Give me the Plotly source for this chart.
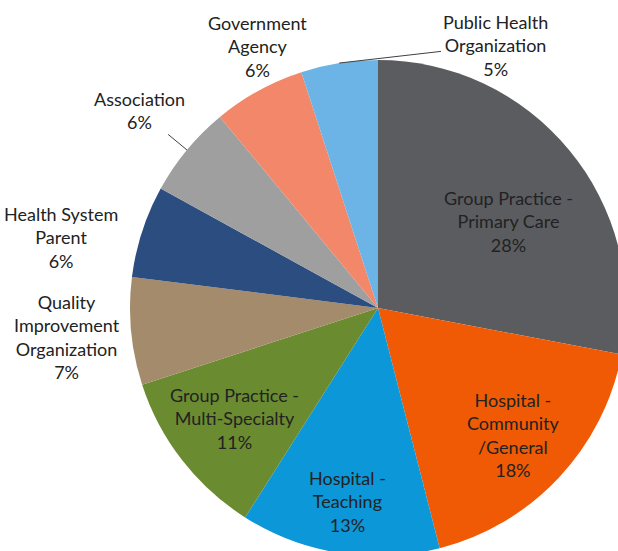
import math
import plotly.graph_objects as go

# ---- data ----
labels = [
    "Group Practice - Primary Care",
    "Hospital - Community/General",
    "Hospital - Teaching",
    "Group Practice - Multi-Specialty",
    "Quality Improvement Organization",
    "Health System Parent",
    "Association",
    "Government Agency",
    "Public Health Organization",
]
values = [28, 18, 13, 11, 7, 6, 6, 6, 5]
label_text = [
    "Group Practice -<br>Primary Care",
    "Hospital -<br>Community<br>/General",
    "Hospital -<br>Teaching",
    "Group Practice -<br>Multi-Specialty",
    "Quality<br>Improvement<br>Organization",
    "Health System<br>Parent",
    "Association",
    "Government<br>Agency",
    "Public Health<br>Organization",
]

# ---- style ----
colors = ["#5b5c60", "#f05a05", "#0b97d8", "#6b8b30", "#a48b6b",
          "#2c4d7f", "#9f9f9f", "#f2876a", "#6cb4e6"]
label_r = [0.63, 0.75, 0.79, 0.73, 1.26, 1.31, 1.25, 1.16, 1.16]
label_dang = [6, 0, 0, 0, 0, -5.5, 0, 4, 33]
leader = [False, False, False, False, False, False, True, False, True]
FONT = dict(family="Lato", size=18, color="#222222")

W, H = 630, 560
CX, CY, R = 378, 308, 248

fig = go.Figure(go.Pie(
    labels=labels,
    values=values,
    sort=False,
    direction="clockwise",
    rotation=0,
    textinfo="none",
    hoverinfo="label+percent",
    marker=dict(colors=colors, line=dict(width=0)),
    domain=dict(x=[(CX - R) / W, (CX + R) / W],
                y=[1 - (CY + R) / H, 1 - (CY - R) / H]),
    showlegend=False,
))

total = sum(values)
cum = 0
annotations = []
for i, v in enumerate(values):
    mid = (cum + v / 2) / total * 360
    cum += v
    ang = math.radians(mid + label_dang[i])
    lx = CX + R * label_r[i] * math.sin(ang)
    ly = CY - R * label_r[i] * math.cos(ang)
    txt = f"{label_text[i]}<br>{round(v / total * 100)}%"
    if leader[i]:
        ma = math.radians(mid)
        ex = CX + R * math.sin(ma)
        ey = CY - R * math.cos(ma)
        annotations.append(dict(
            x=ex / W, y=1 - ey / H, xref="paper", yref="paper",
            ax=lx - ex, ay=ly - ey, text=txt, showarrow=True,
            arrowhead=0, arrowwidth=1, arrowcolor="#404040",
            font=FONT, align="center"))
    else:
        annotations.append(dict(
            x=lx / W, y=1 - ly / H, xref="paper", yref="paper",
            text=txt, showarrow=False, xanchor="center", yanchor="middle",
            font=FONT, align="center"))

fig.update_layout(
    width=W, height=H,
    margin=dict(l=0, r=0, t=0, b=0),
    paper_bgcolor="white",
    plot_bgcolor="white",
    annotations=annotations,
)

fig.write_html(
    "out.html",
    config={"displayModeBar": False},
    post_script="document.body.style.margin='0';document.body.style.overflow='hidden';",
)
